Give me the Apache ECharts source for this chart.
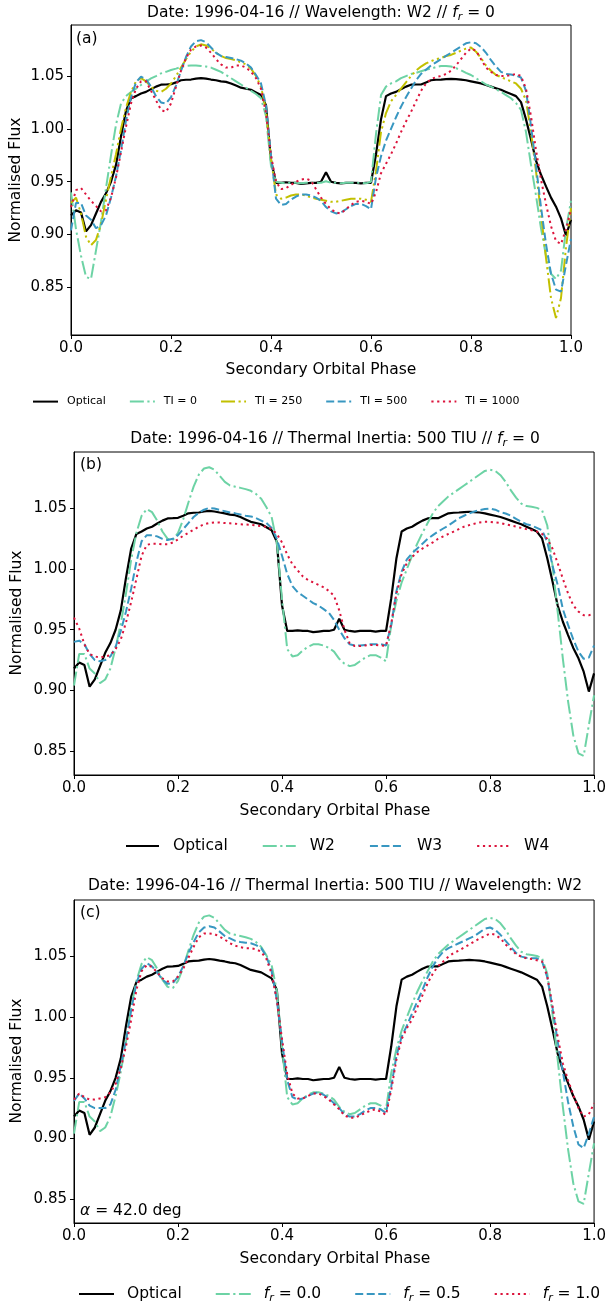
<!DOCTYPE html>
<html>
<head>
<meta charset="utf-8">
<title>Normalised flux vs secondary orbital phase</title>
<script src="https://cdn.jsdelivr.net/npm/echarts@6.0.0/dist/echarts.min.js"></script>
<style>
  html, body { margin: 0; padding: 0; background: #fff; }
  #chart { width: 609px; height: 1305px; }
</style>
</head>
<body>
<div id="chart"></div>
<script>
// secondary orbital phase, sampled every 0.01
const phase = [
  0.00, 0.01, 0.02, 0.03, 0.04, 0.05, 0.06, 0.07, 0.08, 0.09,
  0.10, 0.11, 0.12, 0.13, 0.14, 0.15, 0.16, 0.17, 0.18, 0.19,
  0.20, 0.21, 0.22, 0.23, 0.24, 0.25, 0.26, 0.27, 0.28, 0.29,
  0.30, 0.31, 0.32, 0.33, 0.34, 0.35, 0.36, 0.37, 0.38, 0.39,
  0.40, 0.41, 0.42, 0.43, 0.44, 0.45, 0.46, 0.47, 0.48, 0.49,
  0.50, 0.51, 0.52, 0.53, 0.54, 0.55, 0.56, 0.57, 0.58, 0.59,
  0.60, 0.61, 0.62, 0.63, 0.64, 0.65, 0.66, 0.67, 0.68, 0.69,
  0.70, 0.71, 0.72, 0.73, 0.74, 0.75, 0.76, 0.77, 0.78, 0.79,
  0.80, 0.81, 0.82, 0.83, 0.84, 0.85, 0.86, 0.87, 0.88, 0.89,
  0.90, 0.91, 0.92, 0.93, 0.94, 0.95, 0.96, 0.97, 0.98, 0.99,
  1.00
];

// optical light curve (same in all panels)
const optical = [
  0.918, 0.923, 0.921, 0.903, 0.909, 0.920, 0.931, 0.939, 0.950, 0.966,
  0.993, 1.017, 1.029, 1.031, 1.0335, 1.035, 1.0376, 1.040, 1.0418, 1.042,
  1.0423, 1.044, 1.046, 1.0465, 1.0467, 1.0475, 1.048, 1.0475, 1.0467, 1.046,
  1.045, 1.0445, 1.043, 1.041, 1.039, 1.038, 1.037, 1.0345, 1.032, 1.0225,
  0.970, 0.949, 0.949, 0.9495, 0.949, 0.949, 0.948, 0.9485, 0.949, 0.949,
  0.950, 0.959, 0.950, 0.949, 0.9485, 0.949, 0.949, 0.949, 0.9485, 0.949,
  0.949, 0.976, 1.009, 1.031, 1.0335, 1.035, 1.0376, 1.040, 1.0418, 1.042,
  1.042, 1.044, 1.046, 1.0465, 1.0467, 1.047, 1.0473, 1.047, 1.0467, 1.046,
  1.045, 1.044, 1.043, 1.0415, 1.040, 1.0385, 1.037, 1.035, 1.033, 1.031,
  1.0253, 1.009, 0.990, 0.970, 0.9566, 0.9456, 0.935, 0.9264, 0.9154, 0.899,
  0.914
];

// W2, TI = 500, f_r = 0 (TI = 500 in a, W2 in b, f_r = 0.0 in c)
const w2Ti500 = [
  0.904, 0.930, 0.930, 0.918, 0.914, 0.906, 0.909, 0.918, 0.935, 0.955,
  0.980, 1.008, 1.030, 1.044, 1.0495, 1.047, 1.040, 1.031, 1.025, 1.024,
  1.030, 1.041, 1.055, 1.068, 1.078, 1.083, 1.084, 1.082, 1.077, 1.072,
  1.069, 1.068, 1.067, 1.066, 1.0646, 1.062, 1.058, 1.051, 1.043, 1.022,
  0.975, 0.934, 0.928, 0.929, 0.933, 0.936, 0.938, 0.938, 0.937, 0.935,
  0.932, 0.926, 0.922, 0.920, 0.921, 0.924, 0.927, 0.929, 0.929, 0.927,
  0.924, 0.954, 0.974, 0.989, 1.000, 1.011, 1.021, 1.030, 1.038, 1.046,
  1.052, 1.056, 1.060, 1.063, 1.066, 1.069, 1.072, 1.075, 1.078, 1.081,
  1.082, 1.081, 1.0775, 1.072, 1.065, 1.059, 1.054, 1.052, 1.0514, 1.0505,
  1.0486, 1.036, 1.003, 0.965, 0.926, 0.891, 0.863, 0.848, 0.846, 0.8714,
  0.896
];

// panel (a): W2, f_r = 0, other thermal inertias
const ti0 = [
  0.940, 0.905, 0.880, 0.860, 0.858, 0.885, 0.912, 0.944, 0.975, 1.004,
  1.024, 1.031, 1.035, 1.038, 1.0415, 1.0446, 1.0478, 1.050, 1.0525, 1.054,
  1.0557, 1.057, 1.0585, 1.0595, 1.060, 1.060, 1.0595, 1.059, 1.058, 1.056,
  1.054, 1.051, 1.048, 1.045, 1.042, 1.039, 1.036, 1.033, 1.029, 1.012,
  0.965, 0.950, 0.949, 0.9485, 0.949, 0.949, 0.9485, 0.949, 0.949, 0.949,
  0.949, 0.9505, 0.949, 0.949, 0.9485, 0.949, 0.949, 0.949, 0.949, 0.9485,
  0.950, 0.995, 1.032, 1.040, 1.043, 1.045, 1.048, 1.050, 1.052, 1.053,
  1.0545, 1.056, 1.057, 1.0585, 1.0595, 1.0595, 1.059, 1.0575, 1.0555, 1.053,
  1.051, 1.048, 1.045, 1.042, 1.040, 1.0375, 1.035, 1.032, 1.029, 1.0245,
  1.018, 0.997, 0.966, 0.937, 0.906, 0.880, 0.863, 0.858, 0.866, 0.905,
  0.932
];
const ti250 = [
  0.930, 0.935, 0.920, 0.898, 0.890, 0.895, 0.910, 0.933, 0.955, 0.976,
  1.000, 1.020, 1.035, 1.045, 1.048, 1.045, 1.040, 1.036, 1.035, 1.038,
  1.043, 1.050, 1.058, 1.066, 1.073, 1.078, 1.080, 1.079, 1.076, 1.072,
  1.069, 1.067, 1.066, 1.065, 1.063, 1.061, 1.057, 1.050, 1.040, 1.018,
  0.972, 0.938, 0.934, 0.935, 0.937, 0.938, 0.938, 0.937, 0.935, 0.934,
  0.933, 0.932, 0.931, 0.931, 0.932, 0.933, 0.934, 0.934, 0.934, 0.933,
  0.931, 0.960, 0.997, 1.015, 1.026, 1.032, 1.038, 1.044, 1.050, 1.055,
  1.059, 1.062, 1.064, 1.066, 1.067, 1.069, 1.070, 1.072, 1.074, 1.076,
  1.077, 1.073, 1.067, 1.060, 1.055, 1.051, 1.049, 1.047, 1.045, 1.043,
  1.038, 1.027, 0.997, 0.960, 0.920, 0.878, 0.840, 0.821, 0.840, 0.888,
  0.925
];
const ti1000 = [
  0.926, 0.942, 0.944, 0.938, 0.932, 0.927, 0.922, 0.923, 0.935, 0.954,
  0.978, 1.002, 1.024, 1.038, 1.045, 1.045, 1.036, 1.027, 1.018, 1.016,
  1.024, 1.040, 1.055, 1.067, 1.075, 1.078, 1.079, 1.077, 1.072, 1.066,
  1.061, 1.058, 1.058, 1.060, 1.060, 1.058, 1.054, 1.048, 1.038, 1.015,
  0.975, 0.950, 0.943, 0.944, 0.947, 0.950, 0.952, 0.953, 0.951, 0.943,
  0.935, 0.929, 0.924, 0.921, 0.920, 0.924, 0.928, 0.931, 0.932, 0.931,
  0.929, 0.940, 0.958, 0.967, 0.976, 0.986, 0.997, 1.007, 1.016, 1.026,
  1.036, 1.043, 1.047, 1.049, 1.050, 1.052, 1.055, 1.060, 1.066, 1.072,
  1.076, 1.074, 1.066, 1.058, 1.054, 1.051, 1.050, 1.050, 1.051, 1.052,
  1.050, 1.038, 1.012, 0.980, 0.952, 0.929, 0.908, 0.894, 0.891, 0.905,
  0.924
];

// panel (b): TI = 500, f_r = 0, other wavelengths
const w3 = [
  0.940, 0.941, 0.938, 0.930, 0.925, 0.924, 0.925, 0.928, 0.936, 0.949,
  0.965, 0.984, 1.006, 1.023, 1.028, 1.028, 1.027, 1.025, 1.024, 1.025,
  1.028, 1.033, 1.038, 1.043, 1.0465, 1.049, 1.0505, 1.050, 1.0488, 1.0478,
  1.0467, 1.046, 1.045, 1.044, 1.0435, 1.042, 1.040, 1.038, 1.034, 1.025,
  1.011, 0.996, 0.986, 0.981, 0.978, 0.975, 0.972, 0.970, 0.967, 0.964,
  0.958, 0.950, 0.943, 0.938, 0.937, 0.937, 0.9375, 0.938, 0.938, 0.938,
  0.937, 0.954, 0.982, 0.998, 1.008, 1.013, 1.017, 1.021, 1.025, 1.028,
  1.031, 1.0335, 1.036, 1.039, 1.042, 1.044, 1.046, 1.0475, 1.0487, 1.0495,
  1.050, 1.049, 1.047, 1.0459, 1.044, 1.0415, 1.039, 1.037, 1.036, 1.034,
  1.032, 1.0225, 1.003, 0.987, 0.967, 0.954, 0.942, 0.932, 0.926, 0.927,
  0.937
];
const w4 = [
  0.960, 0.951, 0.938, 0.930, 0.928, 0.927, 0.928, 0.929, 0.934, 0.942,
  0.956, 0.973, 0.992, 1.011, 1.020, 1.021, 1.021, 1.0205, 1.0205, 1.022,
  1.0245, 1.0275, 1.030, 1.0325, 1.035, 1.037, 1.038, 1.0385, 1.0385, 1.038,
  1.0378, 1.0375, 1.037, 1.0368, 1.0365, 1.036, 1.0355, 1.035, 1.033, 1.029,
  1.022, 1.012, 1.004, 0.999, 0.994, 0.991, 0.989, 0.987, 0.985, 0.982,
  0.978, 0.966, 0.950, 0.939, 0.9365, 0.9365, 0.937, 0.9375, 0.9375, 0.937,
  0.9368, 0.955, 0.980, 0.996, 1.005, 1.010, 1.014, 1.017, 1.0195, 1.022,
  1.025, 1.027, 1.029, 1.031, 1.033, 1.035, 1.0363, 1.0375, 1.0385, 1.039,
  1.039, 1.0385, 1.038, 1.037, 1.036, 1.035, 1.034, 1.033, 1.032, 1.031,
  1.029, 1.025, 1.017, 1.005, 0.992, 0.980, 0.970, 0.965, 0.962, 0.962,
  0.963
];

// panel (c): W2, TI = 500, other f_r
const fr05 = [
  0.931, 0.937, 0.933, 0.927, 0.925, 0.925, 0.925, 0.928, 0.940, 0.960,
  0.981, 1.006, 1.028, 1.040, 1.0445, 1.042, 1.037, 1.031, 1.0275, 1.028,
  1.0335, 1.042, 1.053, 1.062, 1.070, 1.074, 1.075, 1.074, 1.0706, 1.067,
  1.065, 1.063, 1.062, 1.0615, 1.061, 1.0595, 1.057, 1.050, 1.038, 1.014,
  0.980, 0.948, 0.934, 0.932, 0.933, 0.935, 0.937, 0.938, 0.936, 0.933,
  0.929, 0.925, 0.920, 0.918, 0.918, 0.920, 0.923, 0.925, 0.925, 0.924,
  0.921, 0.943, 0.968, 0.984, 0.993, 1.003, 1.013, 1.0225, 1.033, 1.042,
  1.049, 1.054, 1.057, 1.059, 1.061, 1.063, 1.065, 1.067, 1.070, 1.073,
  1.074, 1.072, 1.068, 1.063, 1.058, 1.053, 1.050, 1.049, 1.0486, 1.0486,
  1.046, 1.033, 1.008, 0.980, 0.955, 0.930, 0.910, 0.895, 0.892, 0.904,
  0.918
];
const fr10 = [
  0.932, 0.937, 0.934, 0.932, 0.932, 0.933, 0.934, 0.938, 0.945, 0.958,
  0.976, 0.998, 1.0225, 1.038, 1.043, 1.0415, 1.037, 1.032, 1.0295, 1.0295,
  1.0335, 1.040, 1.049, 1.058, 1.066, 1.069, 1.069, 1.0685, 1.0665, 1.064,
  1.061, 1.059, 1.0577, 1.057, 1.0569, 1.056, 1.054, 1.048, 1.036, 1.014,
  0.982, 0.953, 0.937, 0.933, 0.933, 0.935, 0.937, 0.937, 0.935, 0.932,
  0.928, 0.924, 0.919, 0.917, 0.917, 0.919, 0.921, 0.923, 0.924, 0.922,
  0.9195, 0.940, 0.965, 0.982, 0.991, 0.998, 1.008, 1.018, 1.028, 1.036,
  1.042, 1.046, 1.050, 1.053, 1.055, 1.0575, 1.060, 1.0625, 1.065, 1.067,
  1.069, 1.068, 1.065, 1.060, 1.056, 1.052, 1.050, 1.0485, 1.048, 1.047,
  1.046, 1.034, 1.009, 0.984, 0.962, 0.948, 0.936, 0.925, 0.918, 0.920,
  0.929
];

const xTicks = [0.0, 0.2, 0.4, 0.6, 0.8, 1.0];
const yTicks = [0.85, 0.90, 0.95, 1.00, 1.05];

const FONT = 'DejaVu Sans';
const GREEN = '#6dd3a5';
const YELLOW = '#c2c000';
const BLUE = '#3897c1';
const RED = '#dc143c';
const SOLID = 'solid';
const DASHED = [8, 3.5];
const DASHDOT = [14, 3.5, 2.2, 3.5];
const DASHDOTDOT = [14, 3.5, 2.2, 3.5, 2.2, 3.5];
const DOTTED = [2.2, 3.6];

const panels = [
  {left: 71, top: 25, width: 500, height: 310, yMin: 0.805, yMax: 1.0983},
  {left: 74, top: 452, width: 521, height: 323, yMin: 0.8302, yMax: 1.0966},
  {left: 74, top: 900, width: 521, height: 323, yMin: 0.8302, yMax: 1.0967}
];

function pairs(ys) {
  return phase.map((p, i) => [p, ys[i]]);
}

function line(name, ys, idx, color, dash, width) {
  return {
    type: 'line',
    name: name,
    xAxisIndex: idx,
    yAxisIndex: idx,
    data: pairs(ys),
    symbol: 'none',
    showSymbol: false,
    clip: true,
    lineStyle: {color: color, width: width || 2, type: dash},
    itemStyle: {color: color},
    emphasis: {disabled: true}
  };
}

const subRich = {
  f: {fontStyle: 'italic', fontSize: 15.5, fontFamily: FONT},
  r: {fontStyle: 'italic', fontSize: 11, fontFamily: FONT, padding: [8, 0, 0, 0]},
  a: {fontStyle: 'italic', fontSize: 15.5, fontFamily: FONT}
};

function label(text, x, y, opts) {
  opts = opts || {};
  return {
    type: 'text',
    x: x,
    y: y,
    rotation: opts.rotation || 0,
    silent: true,
    style: {
      text: text,
      fill: '#000',
      fontSize: opts.size || 15.5,
      fontFamily: FONT,
      align: opts.align || 'center',
      verticalAlign: 'middle',
      rich: subRich
    }
  };
}

const grids = panels.map(p => ({
  left: p.left, top: p.top, width: p.width, height: p.height,
  show: true, borderColor: '#000', borderWidth: 1, backgroundColor: 'transparent'
}));

const xAxes = panels.map((p, i) => ({
  type: 'value', gridIndex: i, min: 0, max: 1, interval: 0.2,
  splitLine: {show: false},
  axisLine: {show: true, onZero: false, lineStyle: {color: '#000', width: 1}},
  axisTick: {show: true, length: 4, lineStyle: {color: '#000', width: 1}, customValues: xTicks},
  axisLabel: {color: '#000', fontSize: 15, fontFamily: FONT, margin: 6, customValues: xTicks,
    formatter: v => v.toFixed(1)}
}));

const yAxes = panels.map((p, i) => ({
  type: 'value', gridIndex: i, min: p.yMin, max: p.yMax,
  splitLine: {show: false},
  axisLine: {show: true, onZero: false, lineStyle: {color: '#000', width: 1}},
  axisTick: {show: true, length: 4, lineStyle: {color: '#000', width: 1}, customValues: yTicks},
  axisLabel: {color: '#000', fontSize: 15, fontFamily: FONT, margin: 7, customValues: yTicks,
    formatter: v => v.toFixed(2)}
}));

const series = [
  line('Optical', optical, 0, '#000', SOLID, 2.2),
  line('TI = 0', ti0, 0, GREEN, DASHDOT),
  line('TI = 250', ti250, 0, YELLOW, DASHDOTDOT),
  line('TI = 500', w2Ti500, 0, BLUE, DASHED),
  line('TI = 1000', ti1000, 0, RED, DOTTED),

  line('Optical', optical, 1, '#000', SOLID, 2.2),
  line('W2', w2Ti500, 1, GREEN, DASHDOT),
  line('W3', w3, 1, BLUE, DASHED),
  line('W4', w4, 1, RED, DOTTED),

  line('Optical', optical, 2, '#000', SOLID, 2.2),
  line('f_r = 0.0', w2Ti500, 2, GREEN, DASHDOT),
  line('f_r = 0.5', fr05, 2, BLUE, DASHED),
  line('f_r = 1.0', fr10, 2, RED, DOTTED)
];

// legend: line handle only, no marker in the middle
const hiddenMarker = {color: 'rgba(0,0,0,0)', borderWidth: 0, opacity: 0};

const legends = [
  {
    data: ['Optical', 'TI = 0', 'TI = 250', 'TI = 500', 'TI = 1000'],
    left: 32, top: 396, width: 577, itemWidth: 25, itemHeight: 14, itemGap: 23,
    textStyle: {fontSize: 11, fontFamily: FONT, color: '#000', padding: [0, 0, 0, 4]}
  },
  {
    data: ['Optical', 'W2', 'W3', 'W4'],
    left: 125, top: 838, width: 484, itemWidth: 33, itemHeight: 14, itemGap: 34,
    textStyle: {fontSize: 15.5, fontFamily: FONT, color: '#000', padding: [0, 0, 0, 9]}
  },
  {
    data: ['Optical', 'f_r = 0.0', 'f_r = 0.5', 'f_r = 1.0'],
    left: 78, top: 1286, width: 531, itemWidth: 35, itemHeight: 14, itemGap: 33,
    formatter: name => name.indexOf('f_r') === 0 ? '{f|f}{r|r}{n|' + name.slice(3) + '}' : name,
    textStyle: {fontSize: 15.5, fontFamily: FONT, color: '#000', padding: [0, 0, 0, 8],
      rich: {
        f: {fontStyle: 'italic', fontSize: 15.5, fontFamily: FONT, color: '#000', padding: [0, 0, 0, 0]},
        r: {fontStyle: 'italic', fontSize: 11, fontFamily: FONT, color: '#000', padding: [8, 0, 0, 0]},
        n: {fontSize: 15.5, fontFamily: FONT, color: '#000', padding: [0, 0, 0, 0]}
      }}
  }
].map(l => Object.assign({selectedMode: false, padding: 0, itemStyle: hiddenMarker}, l));

const graphics = [
  label('Date: 1996-04-16 // Wavelength: W2 // {f|f}{r|r} = 0', 321, 13),
  label('Date: 1996-04-16 // Thermal Inertia: 500 TIU // {f|f}{r|r} = 0', 335, 439),
  label('Date: 1996-04-16 // Thermal Inertia: 500 TIU // Wavelength: W2', 335, 886),
  label('(a)', 76, 39, {align: 'left'}),
  label('(b)', 80, 465, {align: 'left'}),
  label('(c)', 80, 913, {align: 'left'}),
  label('{a|α} = 42.0 deg', 80, 1211, {align: 'left'}),
  label('Secondary Orbital Phase', 321, 370),
  label('Secondary Orbital Phase', 335, 811),
  label('Secondary Orbital Phase', 335, 1259),
  label('Normalised Flux', 16, 180, {rotation: Math.PI / 2}),
  label('Normalised Flux', 17, 613, {rotation: Math.PI / 2}),
  label('Normalised Flux', 17, 1061, {rotation: Math.PI / 2})
];

const option = {
  animation: false,
  backgroundColor: '#fff',
  textStyle: {fontFamily: FONT},
  grid: grids,
  xAxis: xAxes,
  yAxis: yAxes,
  legend: legends,
  series: series,
  graphic: graphics
};

const chart = echarts.init(document.getElementById('chart'), null, {renderer: 'canvas'});
chart.setOption(option);
window.addEventListener('resize', function () {
  chart.resize();
});
</script>
</body>
</html>
